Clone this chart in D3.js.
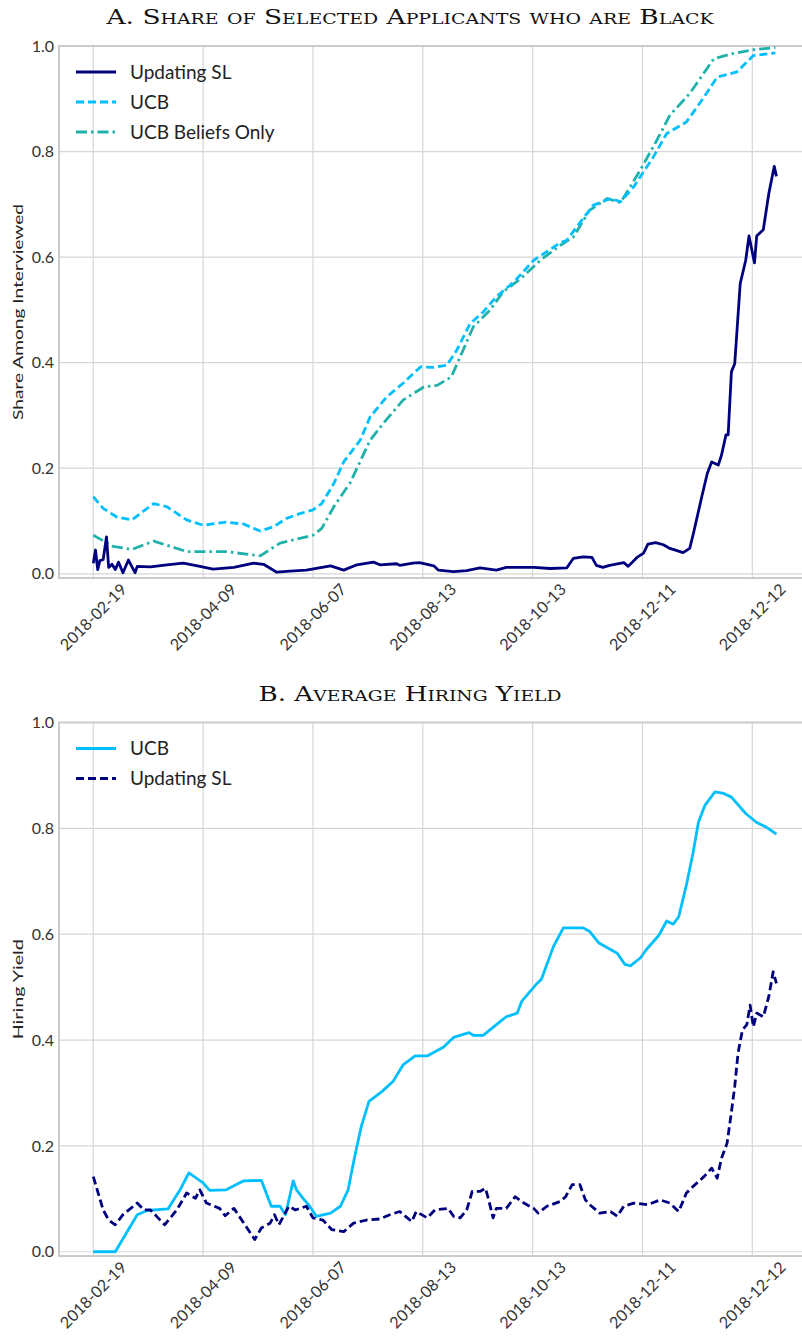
<!DOCTYPE html>
<html lang="en">
<head>
  <meta charset="utf-8">
  <title>Share of selected applicants and hiring yield</title>
  <script type="text/javascript" src="https://d3js.org/d3.v7.min.js"></script>
</head>
<style>
body {
  margin: 0;
  background: white;
  font-family: Lato, "Open Sans", sans-serif;
}
.grid line {
  stroke: #d6d6d6;
  stroke-width: 1.2px;
}
.spine {
  stroke: #cbcbcb;
  stroke-width: 2px;
}
.tick-label {
  font-size: 16px;
  fill: #333;
}
.title {
  font-family: "DejaVu Serif", "Liberation Serif", serif;
  font-variant: small-caps;
  font-size: 21px;
  fill: #111;
}
</style>
<body>
<script type="text/javascript">
  var w = 802;
  var h = 1338;

  // x positions are observation indices; ticks every 100 observations
  var tickIdx = [0, 100, 200, 300, 400, 500, 600];
  var tickLabels = ["2018-02-19", "2018-04-09", "2018-06-07", "2018-08-13",
                    "2018-10-13", "2018-12-11", "2018-12-12"];
  var yTicks = [0.0, 0.2, 0.4, 0.6, 0.8, 1.0];

  // Panel A: share of selected applicants who are Black
  var aUpdatingSL = [[0,0.02],[2,0.045],[4,0.008],[6,0.025],[9,0.027],[12,0.07],[14,0.012],
    [17,0.018],[20,0.008],[23,0.022],[27,0.002],[32,0.026],[38,0.002],[40,0.014],[52,0.013],
    [67,0.017],[82,0.02],[97,0.014],[109,0.009],[128,0.012],[146,0.02],[155,0.018],[167,0.003],
    [179,0.005],[194,0.007],[216,0.015],[228,0.007],[240,0.017],[255,0.022],[261,0.017],
    [276,0.019],[279,0.016],[291,0.02],[297,0.021],[310,0.015],[314,0.007],[328,0.004],
    [340,0.006],[352,0.011],[367,0.007],[376,0.012],[401,0.012],[416,0.01],[431,0.011],
    [437,0.029],[446,0.032],[454,0.031],[458,0.016],[464,0.012],[470,0.016],[483,0.021],
    [487,0.014],[495,0.031],[501,0.039],[505,0.056],[512,0.059],[519,0.055],[525,0.048],
    [537,0.04],[543,0.048],[546,0.073],[554,0.146],[559,0.19],[563,0.212],[569,0.206],
    [572,0.225],[576,0.263],[578,0.263],[581,0.383],[584,0.398],[589,0.55],[594,0.594],
    [597,0.64],[602,0.589],[604,0.64],[610,0.652],[615,0.72],[620,0.772],[622,0.753]];
  var aUCB = [[0,0.146],[9,0.124],[21,0.108],[35,0.102],[55,0.133],[67,0.127],[85,0.102],
    [100,0.092],[121,0.098],[137,0.094],[152,0.081],[164,0.089],[176,0.105],[188,0.114],
    [200,0.121],[208,0.133],[219,0.171],[228,0.212],[243,0.253],[252,0.297],[267,0.335],
    [282,0.361],[298,0.392],[310,0.391],[322,0.395],[331,0.424],[343,0.474],[355,0.496],
    [367,0.525],[383,0.553],[401,0.594],[425,0.627],[431,0.632],[455,0.698],[471,0.711],
    [480,0.705],[492,0.733],[510,0.79],[522,0.834],[540,0.856],[556,0.903],[568,0.941],
    [586,0.951],[601,0.982],[621,0.987]];
  var aBeliefs = [[0,0.073],[18,0.052],[35,0.046],[55,0.062],[85,0.042],[121,0.042],
    [152,0.034],[170,0.058],[194,0.07],[200,0.073],[208,0.086],[219,0.127],[234,0.173],
    [252,0.253],[264,0.285],[282,0.329],[301,0.354],[313,0.357],[326,0.373],[334,0.411],
    [346,0.468],[361,0.499],[373,0.534],[389,0.559],[407,0.594],[425,0.622],[437,0.638],
    [452,0.689],[468,0.711],[480,0.703],[498,0.765],[513,0.821],[525,0.869],[543,0.91],
    [565,0.976],[583,0.986],[601,0.993],[621,0.997]];

  // Panel B: average hiring yield
  var bUCB = [[0,0],[20,0],[40,0.07],[49,0.078],[68,0.081],[79,0.117],[87,0.149],[100,0.13],
    [106,0.116],[121,0.117],[137,0.134],[153,0.135],[162,0.086],[170,0.086],[175,0.07],
    [182,0.134],[185,0.117],[191,0.101],[197,0.086],[203,0.067],[216,0.073],[225,0.086],
    [232,0.117],[238,0.18],[244,0.237],[251,0.284],[263,0.303],[273,0.322],[282,0.353],
    [293,0.37],[304,0.37],[319,0.387],[328,0.405],[342,0.414],[346,0.409],[355,0.409],
    [367,0.429],[376,0.444],[386,0.451],[390,0.473],[404,0.507],[408,0.515],[419,0.577],
    [428,0.612],[446,0.612],[452,0.605],[460,0.584],[477,0.564],[484,0.543],[489,0.54],
    [498,0.555],[504,0.572],[515,0.598],[522,0.625],[528,0.619],[533,0.633],[540,0.693],
    [546,0.753],[551,0.812],[557,0.844],[566,0.869],[574,0.866],[581,0.859],[594,0.828],
    [604,0.811],[613,0.802],[622,0.789]];
  var bUpdatingSL = [[0,0.142],[9,0.079],[14,0.06],[20,0.051],[27,0.07],[40,0.092],[46,0.079],
    [52,0.079],[65,0.051],[76,0.079],[85,0.111],[93,0.101],[97,0.117],[103,0.092],[115,0.082],
    [120,0.068],[128,0.082],[140,0.045],[147,0.023],[153,0.045],[161,0.054],[165,0.07],
    [169,0.051],[178,0.086],[184,0.079],[194,0.086],[200,0.064],[209,0.06],[217,0.042],
    [228,0.038],[237,0.054],[249,0.06],[261,0.062],[270,0.07],[279,0.076],[290,0.057],
    [294,0.076],[304,0.064],[311,0.079],[323,0.082],[328,0.067],[334,0.064],[340,0.079],
    [345,0.114],[352,0.114],[357,0.12],[360,0.098],[364,0.064],[367,0.082],[376,0.082],
    [384,0.104],[392,0.092],[401,0.082],[405,0.073],[413,0.086],[425,0.095],[430,0.104],
    [436,0.127],[443,0.127],[448,0.098],[452,0.089],[461,0.073],[471,0.076],[477,0.067],
    [483,0.086],[492,0.092],[505,0.089],[516,0.098],[525,0.092],[533,0.076],[540,0.111],
    [548,0.127],[556,0.142],[563,0.158],[568,0.139],[572,0.177],[577,0.205],[580,0.249],
    [584,0.312],[587,0.375],[591,0.419],[595,0.429],[598,0.466],[601,0.425],[604,0.451],
    [610,0.444],[615,0.482],[619,0.529],[622,0.507]];

  var navy = "#00007f", sky = "#00bfff", teal = "#20b2aa";

  var svg = d3.select("body").append("svg")
    .attr("width", w)
    .attr("height", h);

  var left = 59, right = 802;
  var x = d3.scaleLinear().domain([0, 600]).range([93.3, 752.3]);

  function panel(opts) {
    var y = d3.scaleLinear().domain([-0.008, 1.0]).range([opts.bottom, opts.top]);
    var g = svg.append("g");

    // grid
    var grid = g.append("g").attr("class", "grid");
    grid.selectAll(".gx").data(tickIdx).enter().append("line")
      .attr("x1", function(d) { return x(d); })
      .attr("x2", function(d) { return x(d); })
      .attr("y1", opts.top).attr("y2", opts.bottom);
    grid.selectAll(".gy").data(yTicks).enter().append("line")
      .attr("x1", left).attr("x2", right)
      .attr("y1", function(d) { return y(d); })
      .attr("y2", function(d) { return y(d); });

    // spines
    g.append("line").attr("class", "spine").attr("x1", left).attr("x2", left)
      .attr("y1", opts.top).attr("y2", opts.bottom);
    g.append("line").attr("class", "spine").attr("x1", left - 1).attr("x2", right)
      .attr("y1", opts.bottom).attr("y2", opts.bottom);
    g.append("line").attr("class", "spine").attr("x1", left - 1).attr("x2", right)
      .attr("y1", opts.top).attr("y2", opts.top);

    // y tick labels
    g.selectAll(".ytl").data(yTicks).enter().append("text")
      .attr("class", "tick-label")
      .attr("x", left - 5)
      .attr("y", function(d) { return y(d); })
      .attr("dy", "0.35em")
      .style("text-anchor", "end")
      .text(function(d) { return d3.format(".1f")(d); });

    // x tick labels, rotated
    g.selectAll(".xtl").data(tickIdx).enter().append("text")
      .attr("class", "tick-label")
      .attr("transform", function(d) {
        return "translate(" + x(d) + "," + (opts.bottom + 39) + ") rotate(-45)";
      })
      .attr("dy", "0.35em")
      .style("text-anchor", "middle")
      .text(function(d, i) { return tickLabels[i]; });

    // y label
    g.append("text")
      .attr("transform", "translate(23," + ((opts.top + opts.bottom) / 2) + ") rotate(-90)")
      .style("text-anchor", "middle")
      .style("font-size", "14px")
      .style("fill", "#222")
      .attr("textLength", opts.ylabelLen)
      .attr("lengthAdjust", "spacingAndGlyphs")
      .text(opts.ylabel);

    // title
    g.append("text")
      .attr("class", "title")
      .attr("x", 410)
      .attr("y", opts.top - 22)
      .attr("textLength", opts.titleLen)
      .attr("lengthAdjust", "spacingAndGlyphs")
      .style("text-anchor", "middle")
      .text(opts.title);

    var line = d3.line()
      .x(function(d) { return x(d[0]); })
      .y(function(d) { return y(d[1]); });

    opts.series.forEach(function(s) {
      g.append("path")
        .datum(s.data)
        .attr("d", line)
        .style("fill", "none")
        .style("stroke", s.color)
        .style("stroke-width", 2.8)
        .style("stroke-linejoin", "round")
        .style("stroke-dasharray", s.dash);
    });

    // legend
    var leg = g.append("g").attr("transform", "translate(76," + (opts.top + 26) + ")");
    opts.legend.forEach(function(s, i) {
      leg.append("line")
        .attr("x1", 0).attr("x2", 40)
        .attr("y1", i * 30).attr("y2", i * 30)
        .style("stroke", s.color)
        .style("stroke-width", 2.8)
        .style("stroke-dasharray", s.dash);
      leg.append("text")
        .attr("x", 54).attr("y", i * 30)
        .attr("dy", "0.35em")
        .style("font-size", "19px")
        .style("fill", "#222")
        .text(s.name);
    });
  }

  var sA = [
    {name: "Updating SL", data: aUpdatingSL, color: navy, dash: null},
    {name: "UCB", data: aUCB, color: sky, dash: "8,4"},
    {name: "UCB Beliefs Only", data: aBeliefs, color: teal, dash: "11,4,2.5,4"}
  ];
  panel({
    top: 46, bottom: 578,
    title: "A. Share of Selected Applicants who are Black",
    titleLen: 607,
    ylabel: "Share Among Interviewed",
    ylabelLen: 216,
    series: [sA[2], sA[1], sA[0]],
    legend: sA
  });

  var sB = [
    {name: "UCB", data: bUCB, color: sky, dash: null},
    {name: "Updating SL", data: bUpdatingSL, color: navy, dash: "8,4"}
  ];
  panel({
    top: 722.5, bottom: 1256,
    title: "B. Average Hiring Yield",
    titleLen: 303,
    ylabel: "Hiring Yield",
    ylabelLen: 100,
    series: [sB[0], sB[1]],
    legend: sB
  });
</script>
</body>
</html>
